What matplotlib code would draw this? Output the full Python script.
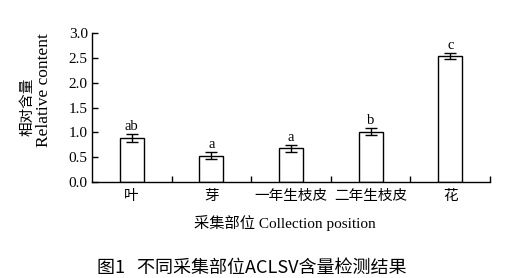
import matplotlib.pyplot as plt
import numpy as np

plt.rcParams['font.family'] = ['Liberation Serif', 'Noto Sans CJK SC']

positions = ['叶', '芽', '一年生枝皮', '二年生枝皮', '花']
values = [0.89, 0.53, 0.68, 1.01, 2.54]
errors = [0.08, 0.07, 0.07, 0.07, 0.06]
letters = ['ab', 'a', 'a', 'b', 'c']

fig = plt.figure(figsize=(5.31, 2.78), dpi=100)
ax = fig.add_axes([0.173, 0.345, 0.75, 0.536])

x = np.arange(len(positions))
ax.bar(x, values, width=0.3, color='white', edgecolor='black', linewidth=1.0,
       yerr=errors, capsize=4, error_kw=dict(elinewidth=1.0, capthick=1.0, ecolor='black'))

for xi, v, e, l in zip(x, values, errors, letters):
    ax.text(xi, v + e + 0.02, l, ha='center', va='bottom', fontsize=10.5)

ax.set_xlim(-0.5, len(positions) - 0.5)
ax.set_ylim(0, 3.0)
ax.set_yticks(np.arange(0, 3.01, 0.5))
ax.set_yticklabels([f"{t:.1f}" for t in np.arange(0, 3.01, 0.5)], fontsize=11)
ax.set_xticks(x)
ax.set_xticklabels(positions, fontsize=10.5, family=['Noto Sans CJK SC'])
ax.tick_params(axis='x', which='major', length=0, pad=5)
ax.set_xticks(np.arange(0.5, len(positions), 1.0), minor=True)
ax.tick_params(axis='x', which='minor', direction='in', length=4, width=1)
ax.tick_params(axis='y', direction='in', length=4, width=1, pad=3)

ax.spines['top'].set_visible(False)
ax.spines['right'].set_visible(False)
for s in ['left', 'bottom']:
    ax.spines[s].set_linewidth(1.0)

fig.text(0.052, 0.615, '相对含量', rotation=90, ha='center', va='center', fontsize=10.5,
         family=['Noto Sans CJK SC'])
fig.text(0.082, 0.676, 'Relative content', rotation=90, ha='center', va='center', fontsize=12.5)

fig.text(0.537, 0.197, '采集部位 Collection position', ha='center', va='center', fontsize=11,
         family=['Liberation Serif', 'Noto Sans CJK SC'])
fig.text(0.475, 0.035, '图1   不同采集部位ACLSV含量检测结果', ha='center', va='center', fontsize=13,
         family=['Noto Sans CJK SC'])

fig.savefig('out.png', dpi=100)
